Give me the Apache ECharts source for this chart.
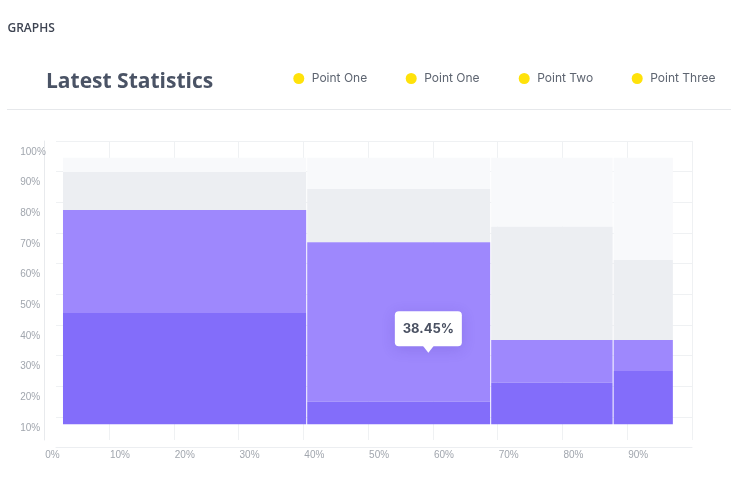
<!DOCTYPE html>
<html><head><meta charset="utf-8">
<script src="https://cdn.jsdelivr.net/npm/echarts@6/dist/echarts.min.js"></script>
<style>html,body{margin:0;padding:0;background:#fff;} #c{width:733px;height:497px;}</style>
</head><body><div id="c"></div>
<script>
// ---- data ----
const legendNames = ['Point One', 'Point One', 'Point Two', 'Point Three'];
const colStart = [2.9, 40.6, 69.0, 87.9];
const colEnd   = [40.6, 69.0, 87.9, 97.2];
const baseValue = [7.6, 7.6, 7.6, 7.6];
const darkTop  = [43.9, 14.9, 21.2, 25.0];
const lightTop = [77.5, 67.0, 35.1, 35.1];
const grayTop  = [89.9, 84.3, 72.0, 61.2];
const backTop  = [94.5, 94.5, 94.5, 94.5];
const xTickLabels = ['0%', '10%', '20%', '30%', '40%', '50%', '60%', '70%', '80%', '90%'];
const yTickLabels = ['10%', '20%', '30%', '40%', '50%', '60%', '70%', '80%', '90%', '100%'];
const tooltipPoint = [59.3, 30.9];
const tooltipText = '38.45%';

// ---- chart ----
const chart = echarts.init(document.getElementById('c'), null, {renderer: 'canvas'});
const labelFont = 'Liberation Sans, Helvetica, Arial, sans-serif';
const legendLeft = [293.3, 405.7, 518.7, 631.7];

function layer(name, bottoms, tops, color, z) {
  return {
    type: 'custom', name: name, xAxisIndex: 0, yAxisIndex: 0, z: z,
    data: colStart.map((s, i) => [s, colEnd[i], bottoms[i], tops[i]]),
    encode: {x: [0, 1], y: [2, 3]},
    renderItem: function (params, api) {
      const p0 = api.coord([api.value(0), api.value(3)]);
      const p1 = api.coord([api.value(1), api.value(2)]);
      return {
        type: 'rect',
        shape: {x: p0[0], y: p0[1], width: p1[0] - p0[0] - 1, height: p1[1] - p0[1]},
        style: {fill: color}
      };
    }
  };
}

const option = {
  backgroundColor: '#ffffff',
  animation: false,
  title: [
    {text: 'GRAPHS', left: 7.5, top: 23, padding: 0,
     textStyle: {fontSize: 12, fontWeight: 600, color: '#3e4452', fontFamily: 'Open Sans'}},
    {text: 'Latest Statistics', left: 46, top: 72, padding: 0,
     textStyle: {fontSize: 21, fontWeight: 700, color: '#4a5365', fontFamily: 'Open Sans'}}
  ],
  legend: legendNames.map((n, i) => ({
    data: [{name: n, itemStyle: {color: '#ffe20a'}}],
    left: legendLeft[i], top: 72.5, padding: 0,
    icon: 'circle', itemWidth: 16, itemHeight: 11,
    selectedMode: false,
    textStyle: {fontSize: 12, color: '#5d6470', fontFamily: 'Inter'}
  })),
  graphic: [
    {type: 'line', shape: {x1: 7, y1: 109.5, x2: 731, y2: 109.5},
     style: {stroke: '#e6e8eb', lineWidth: 1}, silent: true}
  ],
  grid: [
    {left: 44.2, right: 41, top: 141, bottom: 49.5, outerBoundsMode: 'none'},
    {left: 56, right: 41, top: 141, bottom: 49.5, outerBoundsMode: 'none'},
    {left: 44.2, right: 41, top: 141, bottom: 57, outerBoundsMode: 'none'}
  ],
  xAxis: [
    {type: 'value', gridIndex: 0, min: 0, max: 100, interval: 10,
     axisLine: {show: false}, axisTick: {show: false}, splitLine: {show: false},
     axisLabel: {formatter: (v) => xTickLabels[Math.round(v / 10)] || '', align: 'left', margin: 3,
                 padding: [0, 0, 0, 1],
                 color: '#a1a6ae', fontSize: 10, fontFamily: labelFont}},
    {type: 'value', gridIndex: 1, min: 0, max: 1,
     axisLine: {show: true, lineStyle: {color: '#eceef1', width: 1}}, axisTick: {show: false},
     splitLine: {show: false}, axisLabel: {show: false}},
    {type: 'value', gridIndex: 2, min: 0, max: 100, interval: 10,
     axisLine: {show: false}, axisTick: {show: false}, axisLabel: {show: false},
     splitLine: {show: true, lineStyle: {color: '#eff1f3', width: 1}}}
  ],
  yAxis: [
    {type: 'value', gridIndex: 0, min: 0, max: 100, interval: 10,
     axisLine: {show: false}, axisTick: {show: false}, splitLine: {show: false},
     axisLabel: {formatter: (v) => (v === 0 ? '' : (yTickLabels[Math.round(v / 10) - 1] || '')),
                 showMaxLabel: true, showMinLabel: true,
                 align: 'left', margin: 24, verticalAlign: 'top', lineHeight: 22,
                 color: '#a1a6ae', fontSize: 10, fontFamily: labelFont}},
    {type: 'value', gridIndex: 1, min: 0, max: 100, interval: 10,
     axisLine: {show: false}, axisTick: {show: false}, axisLabel: {show: false},
     splitLine: {show: true, lineStyle: {color: '#eff1f3', width: 1}}},
    {type: 'value', gridIndex: 2, min: 0, max: 1,
     axisLine: {show: true, lineStyle: {color: '#e8eaed', width: 1}}, axisTick: {show: false},
     axisLabel: {show: false}, splitLine: {show: false}}
  ],
  series: [
    layer('Back', grayTop, backTop, '#f8f9fb', 2),
    layer('Point Three', lightTop, grayTop, '#eceef2', 3),
    layer('Point Two', darkTop, lightTop, '#9e88fd', 4),
    layer('Point One', baseValue, darkTop, '#836dfa', 5),
    {
      type: 'custom', name: 'tip', xAxisIndex: 0, yAxisIndex: 0, z: 20,
      data: [tooltipPoint],
      renderItem: function (params, api) {
        const p = api.coord([api.value(0), api.value(1)]);
        const w = 67, h = 35, a = 6.5;
        return {
          type: 'group',
          children: [
            {type: 'rect', shape: {x: p[0] - w / 2, y: p[1] - a - h, width: w, height: h, r: 4},
             style: {fill: '#ffffff', shadowBlur: 14, shadowColor: 'rgba(60,40,160,0.18)', shadowOffsetY: 3}},
            {type: 'polygon', shape: {points: [[p[0] - 5.5, p[1] - a - 0.5], [p[0] + 5.5, p[1] - a - 0.5], [p[0], p[1]]]},
             style: {fill: '#ffffff'}},
            {type: 'text', style: {x: p[0], y: p[1] - a - h / 2, text: tooltipText, align: 'center',
              verticalAlign: 'middle', fill: '#4a5162', fontSize: 13, fontWeight: 700, fontFamily: 'Inter'}}
          ]
        };
      }
    }
  ]
};
chart.setOption(option);
</script>
</body></html>
